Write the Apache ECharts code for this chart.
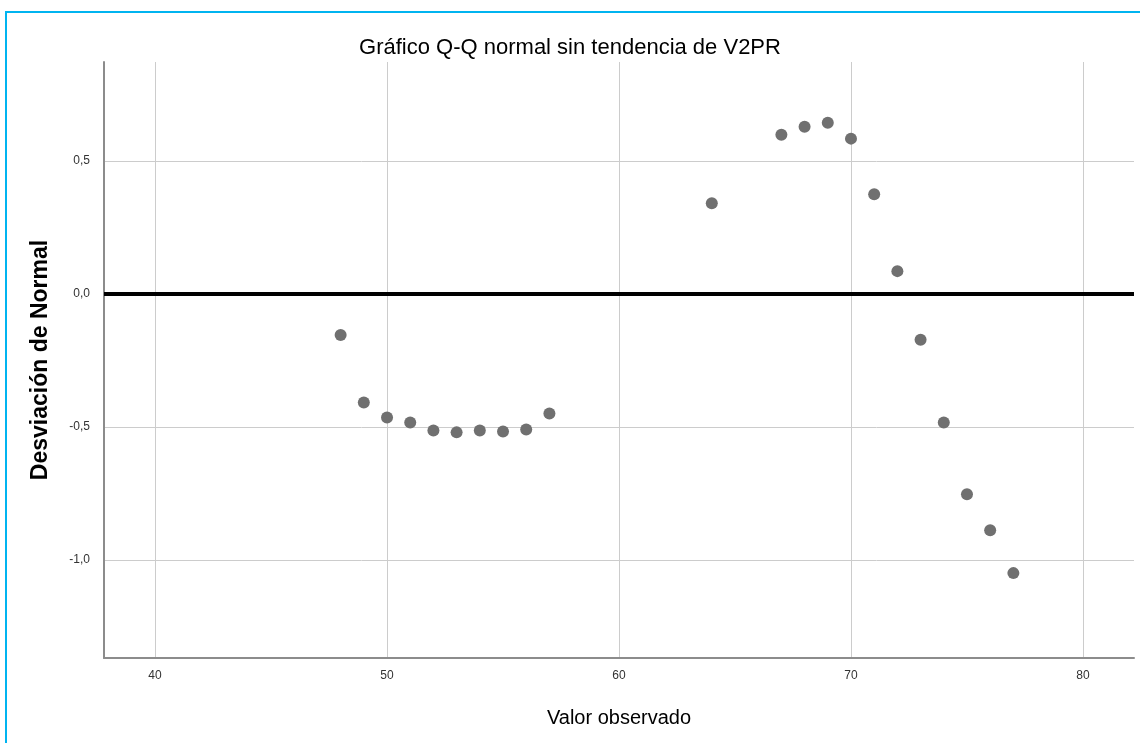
<!DOCTYPE html>
<html>
<head>
<meta charset="utf-8">
<script src="https://cdn.jsdelivr.net/npm/echarts@6/dist/echarts.min.js"></script>
<style>
  html, body { margin: 0; padding: 0; background: #fff; overflow: hidden; }
  #frame { position: absolute; left: 5px; top: 11px; width: 1160px; height: 760px;
           border-left: 2px solid #00B4F0; border-top: 2px solid #00B4F0; }
  #chart { position: absolute; left: 0; top: 0; width: 1140px; height: 743px; }
</style>
</head>
<body>
<div id="frame"></div>
<div id="chart"></div>
<script>
const titleText = 'Gráfico Q-Q normal sin tendencia de V2PR';
const xAxisName = 'Valor observado';
const yAxisName = 'Desviación de Normal';
const observed = [48, 49, 50, 51, 52, 53, 54, 55, 56, 57, 64, 67, 68, 69, 70, 71, 72, 73, 74, 75, 76, 77];
const deviation = [-0.154, -0.408, -0.464, -0.483, -0.513, -0.520, -0.513, -0.517, -0.509, -0.449, 0.341, 0.599, 0.629, 0.644, 0.584, 0.375, 0.086, -0.172, -0.483, -0.753, -0.888, -1.049];
const xTicks = [40, 50, 60, 70, 80];
const yTicks = [-1.0, -0.5, 0.0, 0.5];

const points = observed.map((v, i) => [v, deviation[i]]);
const fmt = v => v.toFixed(1).replace('.', ',');

const chart = echarts.init(document.getElementById('chart'), null, { renderer: 'canvas' });
chart.setOption({
  animation: false,
  backgroundColor: 'transparent',
  title: {
    text: titleText, left: 'center', top: 32,
    textStyle: { fontFamily: 'Liberation Sans', fontSize: 22, fontWeight: 'normal', color: '#000' }
  },
  grid: { left: 104, right: 6, top: 62, bottom: 85 },
  xAxis: {
    type: 'value', min: 37.8, max: 82.2,
    name: xAxisName, nameLocation: 'middle', nameGap: 50,
    nameTextStyle: { fontFamily: 'Liberation Sans', fontSize: 20, color: '#000' },
    axisLine: { show: true, onZero: false, lineStyle: { color: '#8c8c8c', width: 2 } },
    axisTick: { show: false, customValues: xTicks },
    axisLabel: { customValues: xTicks, color: '#333', fontFamily: 'Liberation Sans', fontSize: 12, margin: 12 },
    splitLine: { show: true, lineStyle: { color: '#cccccc', width: 1 } }
  },
  yAxis: {
    type: 'value', min: -1.368, max: 0.872,
    name: yAxisName, nameLocation: 'middle', nameGap: 52, nameRotate: 90,
    nameTextStyle: { fontFamily: 'Liberation Sans', fontSize: 23, fontWeight: 'bold', color: '#000' },
    axisLine: { show: true, onZero: false, lineStyle: { color: '#8c8c8c', width: 2 } },
    axisTick: { show: false, customValues: yTicks },
    axisLabel: { customValues: yTicks, formatter: fmt, color: '#333', fontFamily: 'Liberation Sans', fontSize: 12, margin: 14 },
    splitLine: { show: true, lineStyle: { color: '#cccccc', width: 1 } }
  },
  series: [{
    type: 'scatter',
    data: points,
    symbol: 'circle',
    symbolSize: 12,
    itemStyle: { color: '#707070', opacity: 1 },
    markLine: {
      silent: true, symbol: 'none', label: { show: false },
      lineStyle: { color: '#000', width: 4, type: 'solid' },
      data: [{ yAxis: 0 }]
    }
  }]
});
</script>
</body>
</html>
